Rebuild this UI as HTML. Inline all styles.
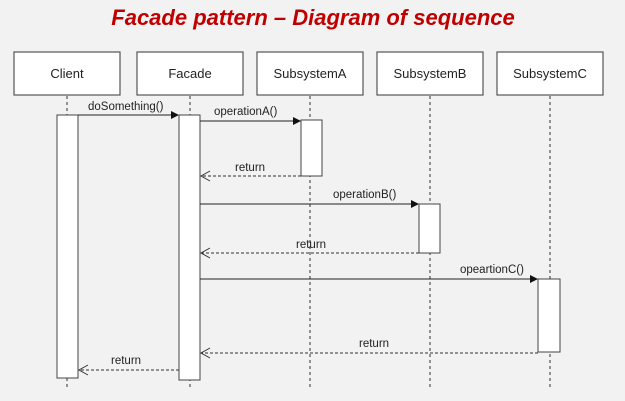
<!DOCTYPE html>
<html><head><meta charset="utf-8"><style>
html,body{margin:0;padding:0;background:#f2f2f2;}
svg{display:block;}
</style></head><body>
<svg width="625" height="401" viewBox="0 0 625 401" xmlns="http://www.w3.org/2000/svg">
<rect width="625" height="401" fill="#f2f2f2"/>
<text x="313" y="25" text-anchor="middle" font-family="Liberation Sans, sans-serif" font-size="22" font-weight="bold" font-style="italic" fill="#c00000">Facade pattern – Diagram of sequence</text>
<g fill="#fff" stroke="#555" stroke-width="1.2">
<rect x="14" y="52" width="106" height="43"/>
<rect x="137" y="52" width="106" height="43"/>
<rect x="257" y="52" width="106" height="43"/>
<rect x="377" y="52" width="106" height="43"/>
<rect x="497" y="52" width="106" height="43"/>
</g>
<g font-family="Liberation Sans, sans-serif" font-size="13" fill="#222" text-anchor="middle">
<text x="67" y="78">Client</text>
<text x="190" y="78">Facade</text>
<text x="310" y="78">SubsystemA</text>
<text x="430" y="78">SubsystemB</text>
<text x="550" y="78">SubsystemC</text>
</g>
<g stroke="#333" stroke-width="1" stroke-dasharray="3,3">
<line x1="67" y1="96" x2="67" y2="389"/>
<line x1="190" y1="96" x2="190" y2="389"/>
<line x1="310" y1="96" x2="310" y2="389"/>
<line x1="430" y1="96" x2="430" y2="389"/>
<line x1="550" y1="96" x2="550" y2="389"/>
</g>
<g fill="#fff" stroke="#444" stroke-width="1">
<rect x="57" y="115" width="21" height="263"/>
<rect x="179" y="115" width="21" height="265"/>
<rect x="301" y="120" width="21" height="56"/>
<rect x="419" y="204" width="21" height="49"/>
<rect x="538" y="279" width="22" height="73"/>
</g>
<g stroke="#222" stroke-width="1">
<line x1="78" y1="115" x2="172" y2="115"/>
<line x1="200" y1="121" x2="294" y2="121"/>
<line x1="200" y1="204" x2="412" y2="204"/>
<line x1="200" y1="279" x2="531" y2="279"/>
</g>
<g fill="#111">
<polygon points="179,115 171,111 171,119"/>
<polygon points="301,121 293,117 293,125"/>
<polygon points="419,204 411,200 411,208"/>
<polygon points="538,279 530,275 530,283"/>
</g>
<g stroke="#333" stroke-width="1" stroke-dasharray="3,2" fill="none">
<line x1="301" y1="176" x2="201" y2="176"/>
<line x1="419" y1="253" x2="201" y2="253"/>
<line x1="538" y1="353" x2="201" y2="353"/>
<line x1="179" y1="370" x2="79" y2="370"/>
</g>
<g stroke="#333" stroke-width="1" fill="none">
<polyline points="210,171 201,176 210,181"/>
<polyline points="210,248 201,253 210,258"/>
<polyline points="210,348 201,353 210,358"/>
<polyline points="88,365 79,370 88,375"/>
</g>
<g font-family="Liberation Sans, sans-serif" font-size="11.5" fill="#222">
<text x="88" y="110">doSomething()</text>
<text x="214" y="115">operationA()</text>
<text x="235" y="171">return</text>
<text x="333" y="198">operationB()</text>
<text x="296" y="248">return</text>
<text x="460" y="273">opeartionC()</text>
<text x="359" y="347">return</text>
<text x="111" y="364">return</text>
</g>
</svg>
</body></html>
